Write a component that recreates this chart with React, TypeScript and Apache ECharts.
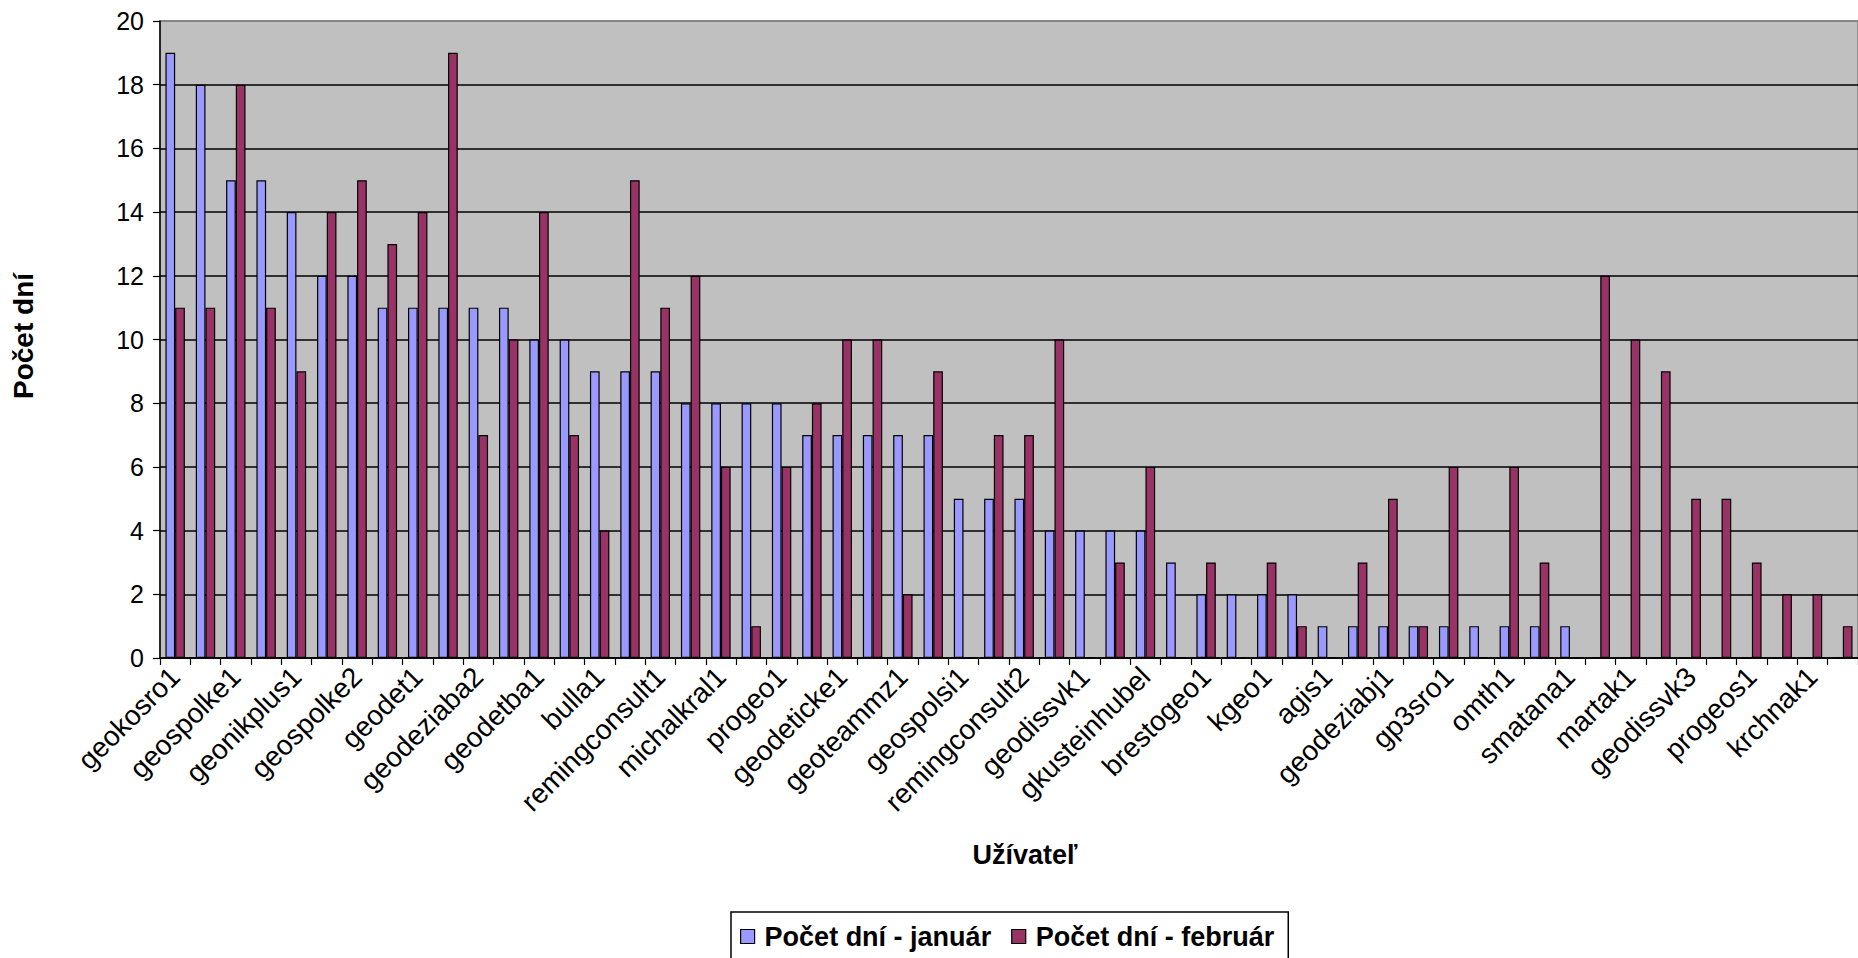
import React, { useEffect, useRef } from "react";
import * as echarts from "echarts";

// Only every other category label is legible in the reference; unlabeled ones are left blank.
const categories = [
  "geokosro1", "", "geospolke1", "", "geonikplus1", "", "geospolke2", "",
  "geodet1", "", "geodeziaba2", "", "geodetba1", "", "bulla1", "",
  "remingconsult1", "", "michalkral1", "", "progeo1", "", "geodeticke1", "",
  "geoteammz1", "", "geospolsi1", "", "remingconsult2", "", "geodissvk1", "",
  "gkusteinhubel", "", "brestogeo1", "", "kgeo1", "", "agis1", "",
  "geodeziabj1", "", "gp3sro1", "", "omth1", "", "smatana1", "",
  "martak1", "", "geodissvk3", "", "progeos1", "", "krchnak1", "",
];

const januar = [
  19, 18, 15, 15, 14, 12, 12, 11, 11, 11, 11, 11, 10, 10, 9, 9,
  9, 8, 8, 8, 8, 7, 7, 7, 7, 7, 5, 5, 5, 4, 4, 4,
  4, 3, 2, 2, 2, 2, 1, 1, 1, 1, 1, 1, 1, 1, 1, 0,
  0, 0, 0, 0, 0, 0, 0, 0,
];

const februar = [
  11, 11, 18, 11, 9, 14, 15, 13, 14, 19, 7, 10, 14, 7, 4, 15,
  11, 12, 6, 1, 6, 8, 10, 10, 2, 9, 0, 7, 7, 10, 0, 3,
  6, 0, 3, 0, 3, 1, 0, 3, 5, 1, 6, 0, 6, 3, 0, 12,
  10, 9, 5, 5, 3, 2, 2, 1,
];

const seriesNames = ["Počet dní - január", "Počet dní - február"];
const yTicks = [0, 2, 4, 6, 8, 10, 12, 14, 16, 18, 20];

const FONT = "'Liberation Sans', Arial, Helvetica, sans-serif";

export default function App() {
  const ref = useRef<HTMLDivElement>(null);

  useEffect(() => {
    if (!ref.current) return;
    const chart = echarts.init(ref.current, undefined, { renderer: "svg" });
    const splitColors = yTicks.map((t, i) => (i === yTicks.length - 1 ? "#808080" : "#000000"));
    chart.setOption({
      animation: false,
      backgroundColor: "#ffffff",
      textStyle: { fontFamily: FONT },
      grid: {
        left: 160,
        right: -2,
        top: 21,
        bottom: 300,
        show: true,
        backgroundColor: "#C0C0C0",
        borderColor: "#808080",
        borderWidth: 1.5,
      },
      legend: {
        data: seriesNames,
        left: 731,
        top: 912,
        orient: "horizontal",
        itemWidth: 14,
        itemHeight: 14,
        itemGap: 20,
        padding: [11, 14, 24, 9],
        borderColor: "#000000",
        borderWidth: 1.5,
        backgroundColor: "#ffffff",
        icon: "rect",
        itemStyle: { borderColor: "#000000", borderWidth: 1.2 },
        textStyle: {
          fontFamily: FONT,
          fontSize: 27,
          fontWeight: "bold",
          color: "#000000",
          padding: [0, 0, 0, 5],
        },
      },
      xAxis: {
        type: "category",
        data: categories,
        boundaryGap: true,
        axisLine: { show: true, lineStyle: { color: "#000000", width: 1.5 } },
        axisTick: { show: true, interval: 0, length: 7, lineStyle: { color: "#000000", width: 1.2 } },
        axisLabel: {
          interval: 0,
          rotate: 45,
          margin: 14,
          fontSize: 28,
          fontFamily: FONT,
          color: "#000000",
        },
        splitLine: { show: false },
      },
      yAxis: {
        type: "value",
        min: 0,
        max: 20,
        interval: 2,
        axisLine: { show: true, lineStyle: { color: "#000000", width: 1.5 } },
        axisTick: { show: true, length: 7, lineStyle: { color: "#000000", width: 1.2 } },
        axisLabel: { fontSize: 25, fontFamily: FONT, color: "#000000", margin: 16 },
        splitLine: { show: true, lineStyle: { color: splitColors, width: 1.5 } },
      },
      graphic: [
        {
          type: "text",
          x: 23,
          y: 336,
          rotation: Math.PI / 2,
          style: {
            text: "Počet dní",
            font: `bold 28px ${FONT}`,
            fill: "#000000",
            align: "center",
            verticalAlign: "middle",
          },
        },
        {
          type: "text",
          x: 1025,
          y: 855,
          style: {
            text: "Užívateľ",
            font: `bold 27px ${FONT}`,
            fill: "#000000",
            align: "center",
            verticalAlign: "middle",
          },
        },
      ],
      series: [
        {
          name: seriesNames[0],
          type: "bar",
          data: januar,
          barGap: "0%",
          barCategoryGap: "36%",
          itemStyle: { color: "#9999FF", borderColor: "#000000", borderWidth: 1.2 },
        },
        {
          name: seriesNames[1],
          type: "bar",
          data: februar,
          barGap: "0%",
          barCategoryGap: "36%",
          itemStyle: { color: "#993366", borderColor: "#000000", borderWidth: 1.2 },
        },
      ],
    });
    return () => chart.dispose();
  }, []);

  return (
    <div
      ref={ref}
      style={{ position: "absolute", left: 0, top: 0, width: 1858, height: 958 }}
    />
  );
}
